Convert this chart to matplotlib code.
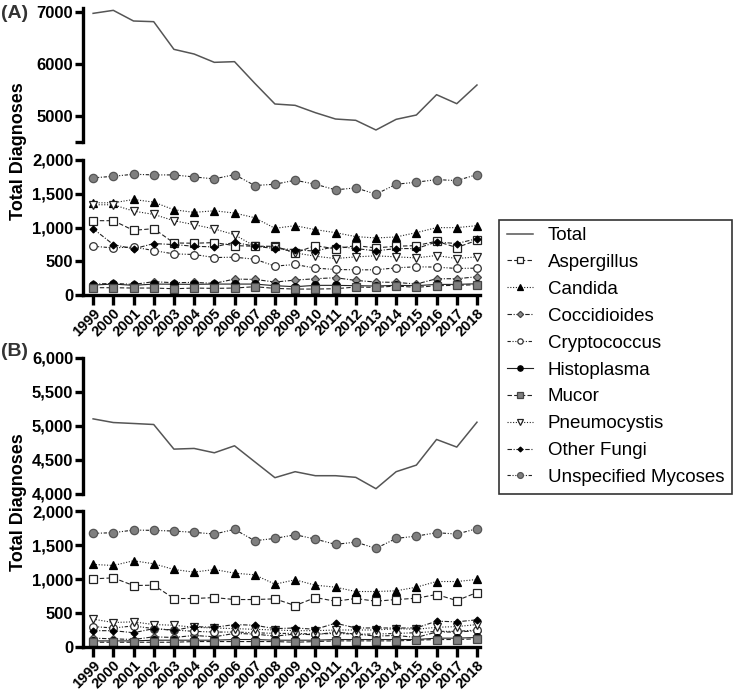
import numpy as np
import matplotlib
matplotlib.use('Agg')
import matplotlib.pyplot as plt
from matplotlib.ticker import FuncFormatter, FixedLocator

plt.rcParams['font.family'] = ['Liberation Sans', 'DejaVu Sans']

years = list(range(1999, 2019))

# panel A
total_a = [6974, 7032, 6827, 6814, 6282, 6192, 6032, 6045, 5630, 5231,
           5205, 5064, 4942, 4917, 4731, 4936, 5019, 5410, 5237, 5596]
asp_a = [1101, 1101, 958, 983, 771, 767, 776, 732, 722, 722,
         624, 732, 683, 732, 698, 722, 732, 796, 703, 811]
can_a = [1366, 1366, 1415, 1376, 1263, 1224, 1248, 1214, 1145, 988,
         1027, 968, 924, 865, 845, 860, 924, 998, 998, 1027]
coc_a = [162, 172, 157, 197, 182, 187, 172, 236, 231, 192,
         221, 241, 256, 216, 192, 187, 162, 241, 241, 270]
cry_a = [722, 698, 712, 658, 609, 600, 555, 560, 531, 428,
         452, 398, 378, 373, 373, 403, 418, 413, 393, 398]
his_a = [147, 162, 143, 162, 160, 158, 162, 162, 162, 138,
         123, 143, 143, 138, 133, 143, 138, 157, 157, 167]
muc_a = [108, 108, 103, 103, 93, 103, 98, 103, 123, 98,
         88, 88, 93, 118, 113, 133, 113, 138, 143, 152]
pne_a = [1337, 1337, 1243, 1194, 1101, 1042, 978, 894, 722, 712,
         624, 575, 540, 565, 580, 565, 550, 585, 540, 565]
oth_a = [983, 747, 683, 762, 747, 722, 712, 781, 722, 688,
         673, 649, 722, 688, 654, 688, 688, 786, 762, 835]
uns_a = [1735, 1759, 1789, 1779, 1779, 1749, 1720, 1784, 1622, 1641,
         1700, 1641, 1558, 1587, 1494, 1641, 1671, 1710, 1695, 1784]

# panel B
total_b = [5105, 5051, 5037, 5022, 4660, 4670, 4606, 4709, 4474, 4240,
           4328, 4269, 4269, 4245, 4078, 4328, 4425, 4802, 4690, 5056]
asp_b = [1002, 1017, 904, 909, 713, 713, 727, 698, 698, 708,
         609, 727, 673, 713, 673, 698, 717, 772, 683, 801]
can_b = [1214, 1199, 1268, 1224, 1140, 1101, 1140, 1086, 1061, 924,
         988, 909, 880, 816, 816, 826, 880, 963, 963, 993]
coc_b = [130, 120, 110, 150, 140, 170, 150, 200, 190, 160,
         190, 180, 220, 190, 160, 170, 140, 220, 220, 240]
cry_b = [300, 280, 310, 270, 250, 230, 220, 220, 210, 200,
         200, 190, 200, 190, 190, 200, 210, 230, 230, 250]
his_b = [90, 90, 90, 100, 100, 100, 100, 110, 110, 100,
         100, 100, 110, 110, 110, 110, 110, 130, 130, 140]
muc_b = [70, 70, 70, 70, 70, 80, 80, 80, 80, 80,
         70, 80, 90, 90, 90, 90, 100, 110, 110, 120]
pne_b = [410, 360, 370, 330, 320, 290, 280, 270, 260, 250,
         240, 240, 250, 250, 250, 270, 260, 290, 300, 330]
oth_b = [240, 240, 210, 270, 245, 300, 290, 330, 320, 270,
         280, 260, 350, 280, 280, 280, 280, 380, 370, 400]
uns_b = [1671, 1681, 1720, 1715, 1705, 1686, 1661, 1730, 1563, 1597,
         1651, 1587, 1509, 1543, 1450, 1597, 1631, 1681, 1661, 1740]

names = ['Aspergillus', 'Candida', 'Coccidioides', 'Cryptococcus', 'Histoplasma',
         'Mucor', 'Pneumocystis', 'Other Fungi', 'Unspecified Mycoses']

styles = {
    'Aspergillus': dict(marker='s', mfc='white', mec='#222222', ls=(0, (4, 2)), ms=5.5),
    'Candida': dict(marker='^', mfc='black', mec='black', ls=(0, (1, 1.5)), ms=5.5),
    'Coccidioides': dict(marker='D', mfc='#8a8a8a', mec='#444444', ls=(0, (4, 1.5, 1, 1.5)), ms=4.5),
    'Cryptococcus': dict(marker='o', mfc='white', mec='#333333', ls=(0, (3, 1.5, 1, 1.5, 1, 1.5)), ms=5.5),
    'Histoplasma': dict(marker='o', mfc='black', mec='black', ls='-', ms=5.5),
    'Mucor': dict(marker='s', mfc='#7f7f7f', mec='#444444', ls=(0, (4, 2)), ms=5.5),
    'Pneumocystis': dict(marker='v', mfc='white', mec='#222222', ls=(0, (1, 1.5)), ms=6),
    'Other Fungi': dict(marker='D', mfc='black', mec='black', ls=(0, (4, 1.5, 1, 1.5)), ms=3.5),
    'Unspecified Mycoses': dict(marker='o', mfc='#7f7f7f', mec='#555555', ls=(0, (3, 1.5, 1, 1.5, 1, 1.5)), ms=6),
}

fig = plt.figure(figsize=(7.36, 6.9), dpi=100)
W, H = 736, 690


def make_ax(top, bottom):
    return fig.add_axes([83 / W, 1 - bottom / H, 397 / W, (bottom - top) / H])


def style_ax(ax, xaxis):
    ax.spines['top'].set_visible(False)
    ax.spines['right'].set_visible(False)
    ax.spines['left'].set_linewidth(2.4)
    ax.spines['bottom'].set_linewidth(2.4)
    ax.tick_params(axis='y', width=2.4, length=6, labelsize=12, pad=1)
    for lab in ax.get_yticklabels():
        lab.set_fontweight('bold')
    ax.set_xlim(1998.5, 2018.15)
    if xaxis:
        ax.set_xticks(years)
        ax.set_xticklabels([str(y) for y in years], rotation=45, ha='right',
                           rotation_mode='anchor', fontweight='bold', fontsize=10.5)
        ax.tick_params(axis='x', width=2.4, length=7, pad=1)
    else:
        ax.spines['bottom'].set_visible(False)
        ax.set_xticks([])


comma = FuncFormatter(lambda v, p: '{:,.0f}'.format(v))


def draw_lower(ax, data):
    for n, vals in zip(names, data):
        st = styles[n]
        ax.plot(years, vals, color='#222222', lw=0.8, ls=st['ls'], marker=st['marker'],
                ms=st['ms'], mfc=st['mfc'], mec=st['mec'], mew=0.9, label=n, clip_on=False)
    ax.set_ylim(0, 2000)
    ax.set_yticks([0, 500, 1000, 1500, 2000])
    ax.yaxis.set_major_formatter(comma)


# A upper
axa1 = make_ax(8, 142)
axa1.plot(years, total_a, color='#555555', lw=1.1, label='Total')
axa1.set_ylim(4500, 7077)
axa1.yaxis.set_major_locator(FixedLocator([4500, 5000, 6000, 7000]))
axa1.yaxis.set_major_formatter(FuncFormatter(lambda v, p: '' if v == 4500 else '%d' % v))
style_ax(axa1, False)

# A lower
axa2 = make_ax(160, 295)
draw_lower(axa2, [asp_a, can_a, coc_a, cry_a, his_a, muc_a, pne_a, oth_a, uns_a])
style_ax(axa2, True)

# B upper
axb1 = make_ax(358, 494)
axb1.plot(years, total_b, color='#555555', lw=1.1)
axb1.set_ylim(4000, 6000)
axb1.set_yticks([4000, 4500, 5000, 5500, 6000])
axb1.yaxis.set_major_formatter(comma)
style_ax(axb1, False)

# B lower
axb2 = make_ax(511, 647)
draw_lower(axb2, [asp_b, can_b, coc_b, cry_b, his_b, muc_b, pne_b, oth_b, uns_b])
style_ax(axb2, True)

fig.text(19 / W, 1 - 151 / H, 'Total Diagnoses', rotation=90, ha='center', va='center',
         fontsize=13, fontweight='bold')
fig.text(19 / W, 1 - 502 / H, 'Total Diagnoses', rotation=90, ha='center', va='center',
         fontsize=13, fontweight='bold')
fig.text(1 / W, 1 - 13 / H, '(A)', ha='left', va='center', fontsize=14, fontweight='bold', color='#333333')
fig.text(1 / W, 1 - 352 / H, '(B)', ha='left', va='center', fontsize=14, fontweight='bold', color='#333333')

handles = axa1.get_lines()[:1] + axa2.get_lines()
leg = fig.legend(handles, ['Total'] + names, loc='center', bbox_to_anchor=(615.5 / W, 1 - 356.5 / H),
                 fontsize=13.5, frameon=True, fancybox=False, edgecolor='black',
                 handlelength=1.4, handletextpad=0.8, labelspacing=0.52, borderpad=0.4,
                 markerscale=0.7)
leg.get_frame().set_linewidth(1.2)

fig.savefig('out.png', dpi=100)
